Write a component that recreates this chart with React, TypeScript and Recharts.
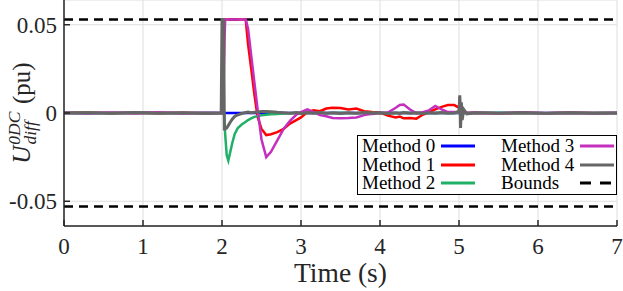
import React from 'react';
import { LineChart, Line, XAxis, YAxis, CartesianGrid, ReferenceLine, Legend } from 'recharts';

// time samples (s), shared by every method
const TIME = [
  0, 0.3, 0.6, 0.9, 1.2, 1.5, 1.8, 1.99,
  2.0, 2.02, 2.03, 2.04, 2.06, 2.08, 2.1, 2.13, 2.16, 2.2,
  2.25, 2.3, 2.33, 2.37, 2.41, 2.45, 2.5, 2.56, 2.62, 2.7,
  2.78, 2.86, 2.94, 3.0, 3.08, 3.16, 3.24, 3.32, 3.4, 3.5,
  3.6, 3.7, 3.8, 3.9, 4.0, 4.1, 4.2, 4.25, 4.3, 4.38,
  4.46, 4.54, 4.62, 4.7, 4.78, 4.86, 4.94, 5.0, 5.01, 5.02,
  5.03, 5.04, 5.06, 5.1, 5.2, 5.5, 5.8, 6.1, 6.4, 6.7,
  7.0,
];

const METHOD_0 = [
  0, 0, 0, 0, 0, 0, 0, 0,
  0, 0, 0, 0, 0, 0, 0, 0, 0, 0,
  0, 0, 0, 0, 0, 0, 0, 0, 0, 0,
  0, 0, 0, 0, 0, 0, 0, 0, 0, 0,
  0, 0, 0, 0, 0, 0, 0, 0, 0, 0,
  0, 0, 0, 0, 0, 0, 0, 0, 0, 0,
  0, 0, 0, 0, 0, 0, 0, 0, 0, 0,
  0,
];

const METHOD_1 = [
  0, 0.0003, -0.0002, 0.0002, -0.0001, 0.0002, -0.0002, 0,
  0, 0.02, 0.053, 0.053, 0.053, 0.053, 0.053, 0.053, 0.053, 0.053,
  0.053, 0.053, 0.039, 0.025, 0.0106, -0.002, -0.009, -0.0125, -0.012, -0.0108,
  -0.009, -0.006, -0.004, -0.0025, 0.0005, 0.0015, 0.001, 0.0025, 0.003, 0.0028,
  0.002, 0.0025, 0.001, 0.0005, 0.0003, -0.0015, -0.0025, -0.002, -0.003, -0.0028,
  -0.0032, -0.001, 0.0005, 0.002, 0.0035, 0.0045, 0.0045, 0.003, 0.006, -0.004,
  0.002, -0.001, 0.0005, 0, 0.0002, -0.0002, 0.0001, -0.0001, 0.0001, 0,
  0,
];

const METHOD_2 = [
  0, 0.0001, -0.0001, 0.0001, 0, -0.0001, 0.0001, 0,
  0, 0, -0.002, -0.012, -0.024, -0.027, -0.023, -0.017, -0.012, -0.0085,
  -0.0065, -0.005, -0.004, -0.003, -0.0022, -0.0018, -0.0013, -0.001, -0.0007, -0.0005,
  -0.0003, -0.0001, 0, 0.0003, 0.0002, 0, 0.0001, -0.0001, 0, 0.0001,
  0, -0.0001, 0, 0.0001, 0, 0, -0.0001, 0, 0.0001, 0,
  0, 0.0001, 0, 0, 0.0001, 0, 0, 0, 0.002, -0.0015,
  0.0008, -0.0004, 0.0002, 0, 0, 0.0001, 0, -0.0001, 0, 0,
  0,
];

const METHOD_3 = [
  0.0002, -0.0003, 0.0003, -0.0002, 0.0004, -0.0003, 0.0002, 0,
  0, 0.015, 0.04, 0.053, 0.053, 0.053, 0.053, 0.053, 0.053, 0.053,
  0.053, 0.053, 0.0477, 0.0325, 0.0174, 0.0023, -0.015, -0.025, -0.022, -0.0155,
  -0.009, -0.0045, -0.001, 0.0005, 0.002, 0.0005, -0.0012, -0.0018, -0.0028, -0.003,
  -0.0028, -0.0025, -0.0012, -0.0005, 0, 0.0003, 0.003, 0.0045, 0.0048, 0.002,
  -0.0002, 0.0005, 0.0015, 0.004, 0.002, 0.0005, 0.0005, 0.0002, 0.009, -0.007,
  0.004, -0.002, 0.0008, 0, 0.0002, -0.0002, 0.0003, -0.0002, 0.0002, -0.0001,
  0,
];

const METHOD_4 = [
  0, 0.0002, -0.0002, 0.0003, -0.0002, 0.0002, -0.0003, 0,
  0.053, 0.053, -0.009, -0.009, -0.0085, -0.007, -0.0055, -0.0035, -0.002, -0.001,
  -0.0003, 0.0003, 0.0005, 0.0002, 0.0004, 0.0006, 0.0008, 0.0008, 0.0007, 0.0004,
  0.0002, -0.0002, 0.0003, -0.0003, 0.0002, -0.0002, 0.0003, -0.0002, 0.0002, -0.0003,
  0.0002, -0.0002, 0.0003, -0.0002, 0.0002, -0.0003, 0.0002, -0.0002, 0.0003, -0.0002,
  0.0002, -0.0003, 0.0002, -0.0002, 0.0003, -0.0002, 0, 0.001, 0.01, -0.0085,
  0.006, -0.004, 0.002, -0.0005, 0.0002, -0.0002, 0.0002, -0.0002, 0.0002, -0.0001,
  0,
];

const BOUNDS = [0.053, -0.053];
const X_TICKS = [0, 1, 2, 3, 4, 5, 6, 7];
const Y_TICKS = [-0.05, 0, 0.05];
const Y_TICK_LABELS = ['-0.05', '0', '0.05'];

const FONT = '"Liberation Serif", serif';
const INK = '#262626';

const series = [
  { key: 'm0', name: 'Method 0', values: METHOD_0, color: '#0000ff', width: 2.5 },
  { key: 'm1', name: 'Method 1', values: METHOD_1, color: '#ff0000', width: 2.5 },
  { key: 'm2', name: 'Method 2', values: METHOD_2, color: '#20b066', width: 2.5 },
  { key: 'm3', name: 'Method 3', values: METHOD_3, color: '#c42fbd', width: 2.5 },
  { key: 'm4', name: 'Method 4', values: METHOD_4, color: '#666666', width: 3 },
];

const data = TIME.map((t, i) => {
  const row: Record<string, number> = { t };
  series.forEach(s => { row[s.key] = s.values[i]; });
  return row;
});

// legend in two columns: methods 0-2, then 3, 4 and the bounds
const legendItems = [
  ...series.map(s => ({ name: s.name, color: s.color, dashed: false })),
  { name: 'Bounds', color: '#000000', dashed: true },
];

const LegendBox = () => (
  <div style={{
    position: 'relative', width: 260, height: 60, boxSizing: 'border-box',
    border: '1.5px solid #000', background: '#fff', fontFamily: FONT, fontSize: 19, color: '#000'
  }}>
    {legendItems.map((item, i) => {
      const col = Math.floor(i / 3);
      const row = i % 3;
      return (
        <div key={item.name} style={{
          position: 'absolute', left: 4 + col * 139, top: row * 18.5 + 1, height: 18,
          display: 'flex', alignItems: 'center'
        }}>
          <span style={{ display: 'block', width: 79, height: 18, lineHeight: '18px', overflow: 'visible', whiteSpace: 'nowrap' }}>
            {item.name}
          </span>
          <svg width={34} height={6} style={{ display: 'block' }}>
            <line x1={0} y1={3} x2={34} y2={3} stroke={item.color} strokeWidth={3}
              strokeDasharray={item.dashed ? '11 9' : undefined} />
          </svg>
        </div>
      );
    })}
  </div>
);

const YLabel = ({ viewBox }: any) => {
  const cx = viewBox.x + 30;
  const cy = viewBox.y + viewBox.height / 2;
  return (
    <text transform={`translate(${cx},${cy}) rotate(-90)`} textAnchor="middle" fontFamily={FONT} fill={INK}>
      <tspan fontStyle="italic" fontSize={25}>U</tspan>
      <tspan fontStyle="italic" fontSize={17.5} dx={1} dy={-10}>0DC</tspan>
      <tspan fontStyle="italic" fontSize={17.5} dx={-33} dy={16}>diff</tspan>
      <tspan fontSize={25} dx={11} dy={-6}> (pu)</tspan>
    </text>
  );
};

export default function App() {
  return (
    <div style={{ position: 'absolute', left: 0, top: 0, background: '#fff' }}>
      <LineChart width={623} height={291} data={data} margin={{ top: 0, right: 6, bottom: 0, left: 0 }}>
        <CartesianGrid stroke="#dedede" strokeWidth={1} />
        <XAxis
          dataKey="t" type="number" domain={[0, 7]} ticks={X_TICKS} height={65}
          stroke={INK} strokeWidth={1.5} tickSize={-6} tickMargin={18}
          tick={{ fontFamily: FONT, fontSize: 23, fill: INK }}
          label={{ value: 'Time (s)', position: 'insideBottom', offset: 9, style: { fontFamily: FONT, fontSize: 27.5, fill: INK } }}
        />
        <YAxis
          type="number" domain={[-0.064, 0.064]} ticks={Y_TICKS} width={64}
          stroke={INK} strokeWidth={1.5} tickSize={-6} tickMargin={13}
          tickFormatter={(v: number) => Y_TICK_LABELS[Y_TICKS.indexOf(v)]}
          tick={{ fontFamily: FONT, fontSize: 23, fill: INK }}
          label={<YLabel />}
        />
        {BOUNDS.map(b => (
          <ReferenceLine key={b} y={b} stroke="#000" strokeWidth={2.5} strokeDasharray="9 6" />
        ))}
        {series.map(s => (
          <Line key={s.key} dataKey={s.key} name={s.name} type="linear" stroke={s.color}
            strokeWidth={s.width} dot={false} isAnimationActive={false} />
        ))}
        <Legend layout="vertical" align="center" verticalAlign="middle" content={<LegendBox />}
          wrapperStyle={{ left: 357, top: 135, width: 260, height: 60 }} />
      </LineChart>
    </div>
  );
}
